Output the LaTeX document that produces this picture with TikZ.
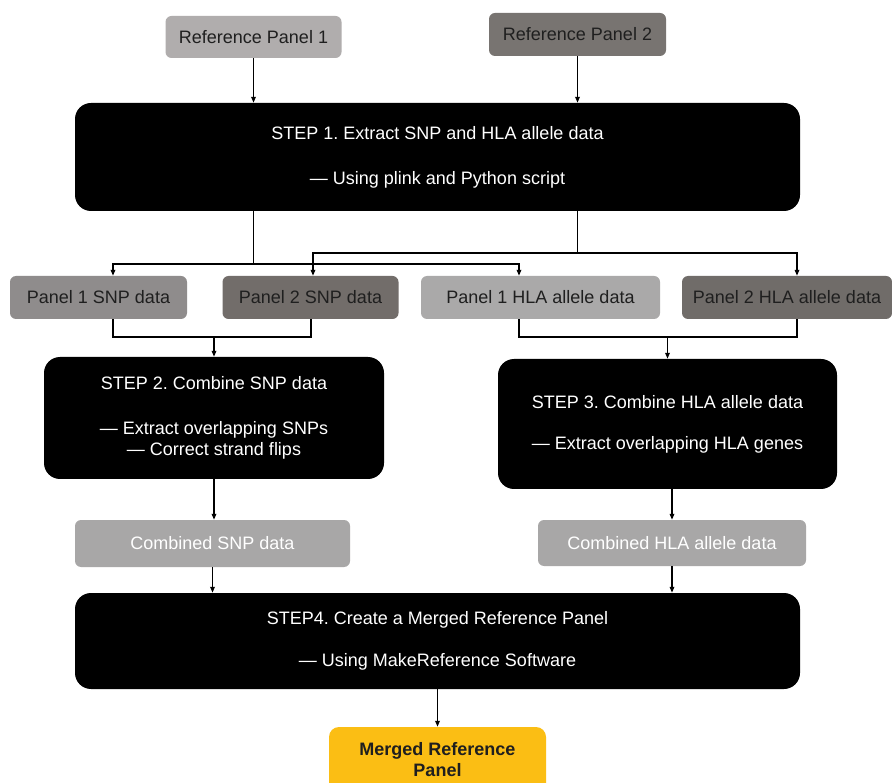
\documentclass[tikz,border=0pt]{standalone}
\usepackage{fontspec}
\setmainfont{Liberation Sans}
\usepackage{tikz}
\usetikzlibrary{calc}
\usetikzlibrary{arrows.meta}

\definecolor{refone}{HTML}{B0ADAD}
\definecolor{reftwo}{HTML}{787471}
\definecolor{snpone}{HTML}{8F8C8C}
\definecolor{snptwo}{HTML}{726D6A}
\definecolor{hlaone}{HTML}{AAA9A9}
\definecolor{hlatwo}{HTML}{706C69}
\definecolor{combined}{HTML}{A8A7A7}
\definecolor{merged}{HTML}{FBBE14}

\frenchspacing

\begin{document}
\begin{tikzpicture}[x=1pt, y=-1pt,
    font=\fontsize{18}{21}\selectfont,
    box/.style={rounded corners=6pt, inner sep=0pt, align=center, text=black!88},
    stepbox/.style={fill=black, text=white, rounded corners=16pt, inner sep=0pt, align=center, minimum width=725pt},
    arr/.style={-{Triangle[length=6pt,width=4.5pt]}, line width=1.5pt},
    link/.style={line width=1.5pt}]
            % Canvas
            \useasboundingbox (0,0) rectangle (892,783);
            \fill[white] (0,0) rectangle (892,783);

            % Input panels
            \node[box, fill=refone, minimum width=176pt, minimum height=42pt] (rp1) at (253.5,37) {Reference Panel 1};
            \node[box, fill=reftwo, minimum width=177pt, minimum height=43pt] (rp2) at (577.5,34.5) {Reference Panel 2};

            % Step 1
            \node[stepbox, minimum height=108pt] (step1) at (437.5,157) {STEP 1. Extract SNP and HLA allele data\\[24pt]— Using plink and Python script};

            % Split data
            \node[box, fill=snpone, minimum width=177pt, minimum height=43pt] (p1snp) at (98.5,297.5) {Panel 1 SNP data};
            \node[box, fill=snptwo, minimum width=176pt, minimum height=43pt] (p2snp) at (310.5,297.5) {Panel 2 SNP data};
            \node[box, fill=hlaone, minimum width=239pt, minimum height=43pt] (p1hla) at (540.5,297.5) {Panel 1 HLA allele data};
            \node[box, fill=hlatwo, minimum width=210pt, minimum height=43pt] (p2hla) at (787,297.5) {Panel 2 HLA allele data};

            % Steps 2 and 3
            \node[stepbox, minimum width=340pt, minimum height=122pt] (step2) at (214,418) {STEP 2. Combine SNP data\\[24pt]— Extract overlapping SNPs\\— Correct strand flips};
            \node[stepbox, minimum width=339pt, minimum height=130pt] (step3) at (667.5,424) {STEP 3. Combine HLA allele data\\[20pt]— Extract overlapping HLA genes};

            % Combined data
            \node[box, fill=combined, text=white, minimum width=275pt, minimum height=47pt] (csnp) at (212.5,543.5) {Combined SNP data};
            \node[box, fill=combined, text=white, minimum width=268pt, minimum height=46pt] (chla) at (672,543) {Combined HLA allele data};

            % Step 4
            \node[stepbox, minimum height=96pt] (step4) at (437.5,641) {STEP4. Create a Merged Reference Panel\\[21pt]— Using MakeReference Software};

            % Output
            \node[box, fill=merged, rounded corners=10pt, minimum width=217pt, minimum height=66pt, font=\fontsize{18}{21}\selectfont\bfseries] (merged) at (437.5,760) {Merged Reference\\Panel};

            % Arrows into step 1
            \draw[arr] (rp1) -- (rp1 |- step1.north);
            \draw[arr] (rp2) -- (rp2 |- step1.north);

            % Split after step 1
            \coordinate (s1a) at (253.5,264);
            \coordinate (s1b) at (577.5,253);
            \draw[link] (rp1 |- step1.south) -- (s1a);
            \draw[link] (rp2 |- step1.south) -- (s1b);
            \draw[arr] (s1a) -| ([xshift=14.5pt]p1snp.north);
            \draw[arr] (s1a) -| ([xshift=-21.5pt]p1hla.north);
            \draw[arr] (s1b) -| ([xshift=2.5pt]p2snp.north);
            \draw[arr] (s1b) -| ([xshift=10pt]p2hla.north);

            % Join into steps 2 and 3
            \coordinate (j2) at (214,337);
            \coordinate (j3) at (667.5,337);
            \draw[link] ([xshift=14.5pt]p1snp.south) |- (j2) -| ([xshift=0.5pt]p2snp.south);
            \draw[arr] (j2) -- (step2);
            \draw[link] ([xshift=-21.5pt]p1hla.south) |- (j3) -| ([xshift=10pt]p2hla.south);
            \draw[arr] (j3) -- (step3);

            % Down to step 4 and output
            \draw[arr] (step2) -- (step2 |- csnp.north);
            \draw[arr] (chla |- step3.south) -- (chla);
            \draw[arr] (csnp) -- (csnp |- step4.north);
            \draw[arr] (chla) -- (chla |- step4.north);
            \draw[arr] (step4) -- (merged);
        \end{tikzpicture}
\end{document}
